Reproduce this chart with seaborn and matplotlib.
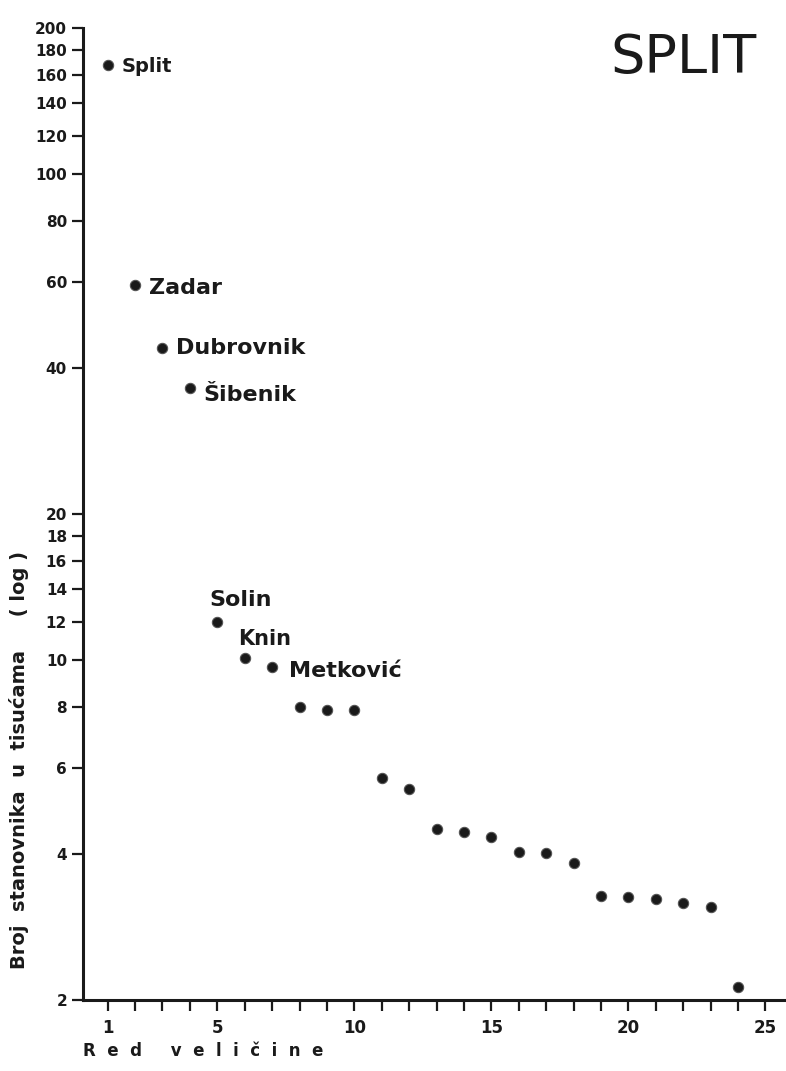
"""Rank-size chart of settlements in the Split region (log scale)."""

import matplotlib
matplotlib.use("Agg")
import matplotlib.pyplot as plt
import matplotlib.ticker as mticker
import pandas as pd
import seaborn as sns

# data
ranks = list(range(1, 25))
population = [168, 59.2, 44.0, 36.4, 12.0, 10.1, 9.7, 8.0, 7.9, 7.9,
              5.72, 5.44, 4.50, 4.44, 4.32, 4.04, 4.02, 3.82,
              3.27, 3.26, 3.23, 3.16, 3.10, 2.13]
names = ["Split", "Zadar", "Dubrovnik", "Šibenik", "Solin", "Knin", "Metković"]
label_offsets = [(10, -1), (10, -2), (10, 0), (10, -5), (-6, 16), (-5, 14), (12, -3)]
label_sizes = [14, 16, 16, 16, 16, 15, 16]

y_ticks = [2, 4, 6, 8, 10, 12, 14, 16, 18, 20, 40, 60, 80, 100, 120, 140, 160, 180, 200]
x_major = [1, 5, 10, 15, 20, 25]

df = pd.DataFrame({"rank": ranks, "pop": population})

sns.set_style("ticks")
plt.rcParams["font.family"] = ["DejaVu Sans"]

fig = plt.figure(figsize=(7.86, 10.71), dpi=100)
ax = fig.add_axes([0.1056, 0.0663, 0.8944, 0.9076])

sns.scatterplot(data=df, x="rank", y="pop", ax=ax, color="#1a1a1a",
                s=55, edgecolor="#555555", linewidth=0.8, legend=False)

ax.set_yscale("log")
ax.set_ylim(2, 200)
ax.set_xlim(0.1, 25.75)
ax.set_xlabel("")
ax.set_ylabel("")

ax.yaxis.set_major_locator(mticker.FixedLocator(y_ticks))
ax.yaxis.set_minor_locator(mticker.NullLocator())
ax.yaxis.set_major_formatter(mticker.FixedFormatter([str(v) for v in y_ticks]))
ax.xaxis.set_major_locator(mticker.FixedLocator(x_major))
ax.xaxis.set_minor_locator(mticker.MultipleLocator(1))

ax.tick_params(axis="both", which="both", direction="out", length=8, width=1.6,
               labelsize=11, colors="#1a1a1a")
ax.tick_params(axis="x", which="major", pad=6, labelsize=12)
for lab in ax.get_yticklabels() + ax.get_xticklabels():
    lab.set_fontweight("bold")

for side in ("top", "right"):
    ax.spines[side].set_visible(False)
for side in ("left", "bottom"):
    ax.spines[side].set_linewidth(2.2)
    ax.spines[side].set_color("#1a1a1a")

for i, name in enumerate(names):
    ax.annotate(name, (ranks[i], population[i]), xytext=label_offsets[i],
                textcoords="offset points", ha="left", va="center",
                fontsize=label_sizes[i], fontweight="bold", color="#1a1a1a")

fig.text(0.963, 0.946, "SPLIT", ha="right", va="center", fontsize=39, color="#1a1a1a")

fig.text(0.024, 0.29, "Broj  stanovnika  u  tisućama     ( log )", rotation=90,
         ha="center", va="center", fontsize=14, fontweight="bold", color="#1a1a1a")
fig.text(0.106, 0.019, "R  e  d     v  e  l  i  č  i  n  e", ha="left", va="center",
         fontsize=12, fontweight="bold", color="#1a1a1a")

fig.savefig("out.png", dpi=100)
